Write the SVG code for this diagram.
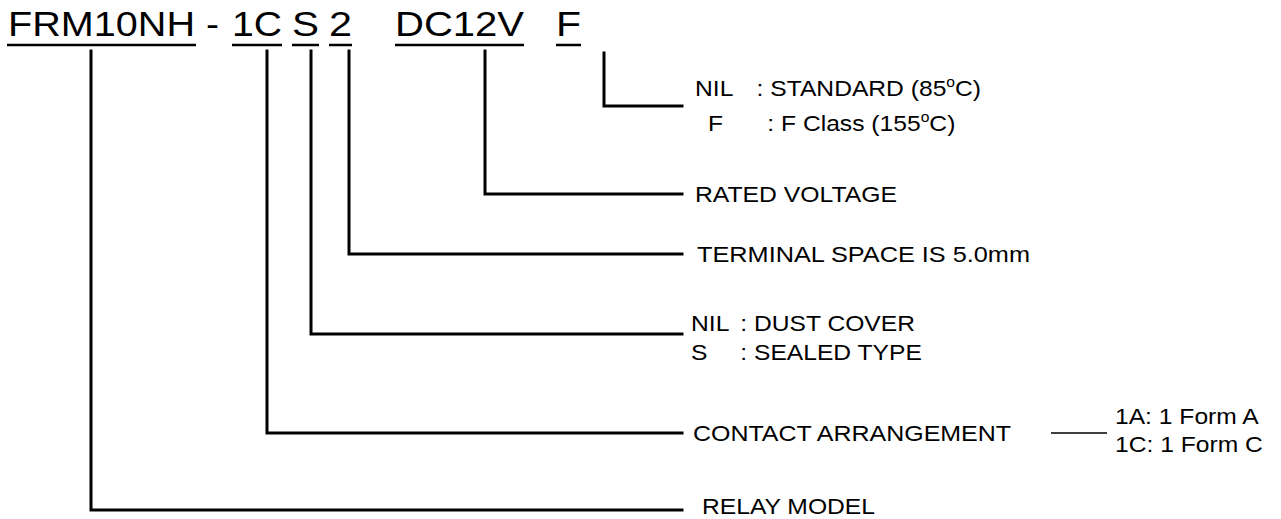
<svg xmlns="http://www.w3.org/2000/svg" width="1281" height="519" viewBox="0 0 1281 519">
<style>
.t{font-family:"Liberation Sans",Arial,sans-serif;font-size:35px;fill:#000}
.l{font-family:"Liberation Sans",Arial,sans-serif;font-size:22px;fill:#000}
.sup{font-size:14px}
.u{stroke:#000;stroke-width:2.5;fill:none}
.c{stroke:#000;stroke-width:3;fill:none;stroke-linecap:square}
.s{stroke:#000;stroke-width:1.5;fill:none}
</style>
<rect width="1281" height="519" fill="#fff"/>
<g id="code">
<text class="t" x="8" y="36" textLength="187" lengthAdjust="spacingAndGlyphs">FRM10NH</text>
<text class="t" x="206" y="36" textLength="13" lengthAdjust="spacingAndGlyphs">-</text>
<text class="t" x="232" y="36" textLength="50" lengthAdjust="spacingAndGlyphs">1C</text>
<text class="t" x="292" y="36" textLength="27" lengthAdjust="spacingAndGlyphs">S</text>
<text class="t" x="329" y="36" textLength="23" lengthAdjust="spacingAndGlyphs">2</text>
<text class="t" x="395" y="36" textLength="129" lengthAdjust="spacingAndGlyphs">DC12V</text>
<text class="t" x="556" y="36" textLength="25" lengthAdjust="spacingAndGlyphs">F</text>
<path class="u" d="M7,45H196M232,45H282M292,45H319M329,45H352M395,45H524M556,45H581"/>
</g>
<g id="connectors">
<path class="c" d="M91,51V510H682"/>
<path class="c" d="M267,51V433H682"/>
<path class="c" d="M311,51V334H682"/>
<path class="c" d="M349,51V254H682"/>
<path class="c" d="M485,51V194H682"/>
<path class="c" d="M604,53V106H682"/>
<path class="s" d="M1051,433H1107"/>
</g>
<g id="insulation">
<text class="l" transform="translate(695,96) scale(1.12,1)">NIL<tspan x="55">: STANDARD (85</tspan><tspan class="sup" dy="-9">o</tspan><tspan dy="9">C)</tspan></text>
<text class="l" transform="translate(708,131) scale(1.12,1)">F<tspan x="53">: F Class (155</tspan><tspan class="sup" dy="-9">o</tspan><tspan dy="9">C)</tspan></text>
</g>
<g id="voltage"><text class="l" x="695" y="202" textLength="202" lengthAdjust="spacingAndGlyphs">RATED VOLTAGE</text></g>
<g id="terminal"><text class="l" x="697" y="262" textLength="333" lengthAdjust="spacingAndGlyphs">TERMINAL SPACE IS 5.0mm</text></g>
<g id="cover">
<text class="l" transform="translate(691,331) scale(1.12,1)">NIL<tspan x="44">:  DUST COVER</tspan></text>
<text class="l" transform="translate(691,360) scale(1.12,1)">S<tspan x="44">:  SEALED TYPE</tspan></text>
</g>
<g id="contact">
<text class="l" x="693" y="441" textLength="318" lengthAdjust="spacingAndGlyphs">CONTACT ARRANGEMENT</text>
<text class="l" transform="translate(1115,424) scale(1.12,1)">1A: 1 Form A</text>
<text class="l" transform="translate(1115,452) scale(1.12,1)">1C: 1 Form C</text>
</g>
<g id="model"><text class="l" x="702" y="514" textLength="173" lengthAdjust="spacingAndGlyphs">RELAY MODEL</text></g>
</svg>
